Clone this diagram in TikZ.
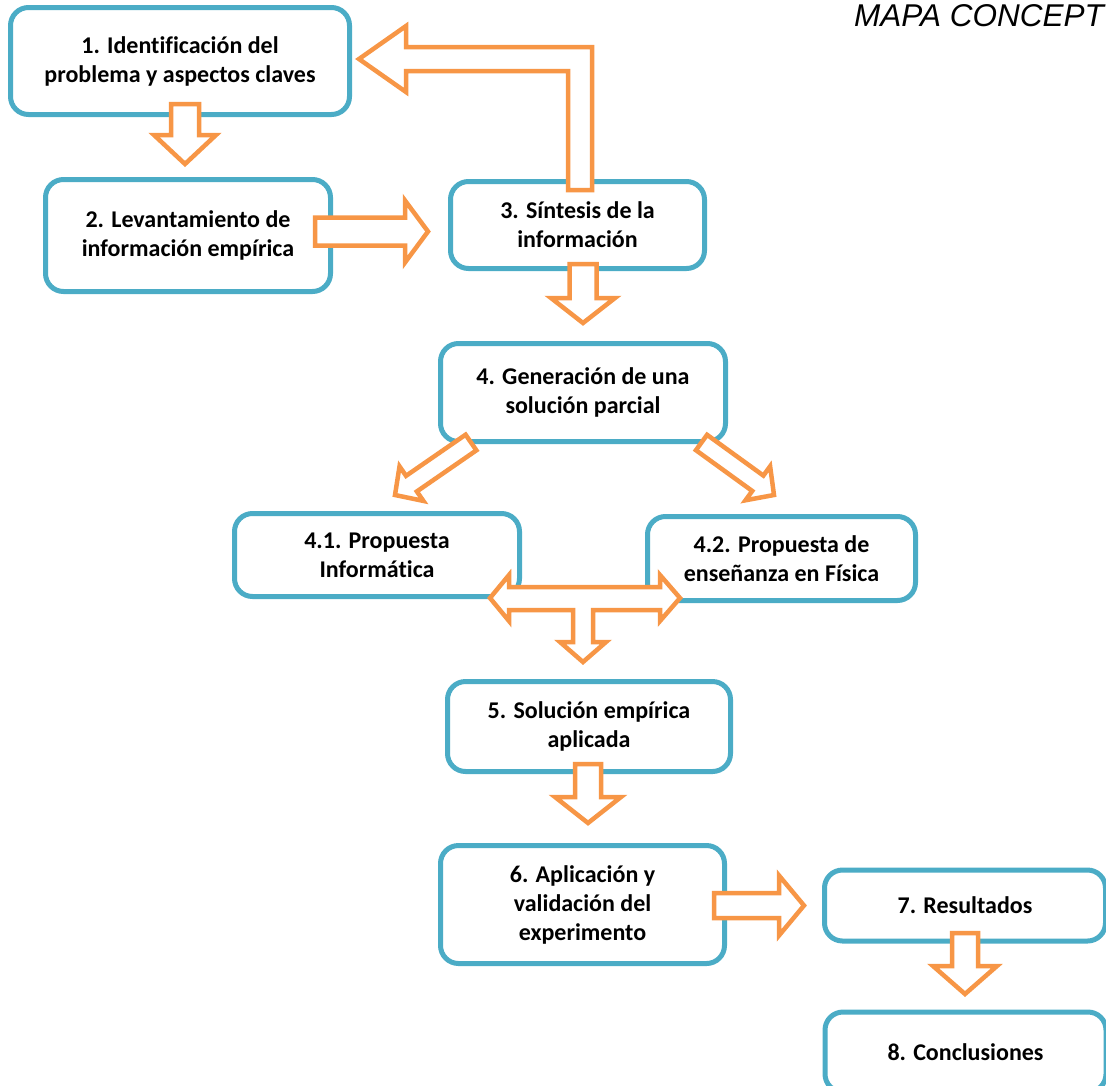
\documentclass[tikz,border=0pt]{standalone}
\usepackage{fontspec}
\setmainfont{Carlito}[Ligatures=NoCommon]
\newfontfamily\titlefont{Liberation Sans}
\usetikzlibrary{calc}
\definecolor{boxblue}{HTML}{4BACC6}
\definecolor{arrorange}{HTML}{F79646}
\tikzset{
  stage/.style={draw=boxblue, line width=5pt, rounded corners=18pt, fill=white,
    align=center, inner sep=0pt, font={\fontsize{24}{29}\selectfont\bfseries}},
  barrow/.style={draw=arrorange, line width=4.5pt, fill=white, line join=miter},
}
\newcommand{\blockarrow}[5]{%
  \draw[barrow] ($(#1)!#3!90:(#2)$)
    -- ($(#2)!#5!(#1)!#3!-90:(#1)$)
    -- ($(#2)!#5!(#1)!#4!-90:(#1)$)
    -- (#2)
    -- ($(#2)!#5!(#1)!#4!90:(#1)$)
    -- ($(#2)!#5!(#1)!#3!90:(#1)$)
    -- ($(#1)!#3!-90:(#2)$) -- cycle;}
\begin{document}
\begin{tikzpicture}[x=1pt,y=-1pt]
\useasboundingbox (0,0) rectangle (1106,1085);
\clip (0,0) rectangle (1106,1085);

% title
\node[anchor=base west, inner sep=0pt, font={\titlefont\itshape\fontsize{31.5}{36}\selectfont}] (title) at (854,26) {MAPA CONCEPT};

% boxes
\node[stage, minimum width=339pt, minimum height=107pt] (b1) at (180,61) {1. Identificación del\\problema y aspectos claves};
\node[stage, minimum width=285pt, minimum height=112pt] (b2) at (188,235.5) {2. Levantamiento de\\información empírica};
\node[stage, minimum width=254pt, minimum height=87pt] (b3) at (577.5,225) {3. Síntesis de la\\información};
\node[stage, minimum width=285pt, minimum height=98pt] (b4) at (583,392.5) {4. Generación de una\\solución parcial};
\node[stage, minimum width=285pt, minimum height=83pt] (b41) at (377,555) {4.1. Propuesta\\Informática};
\node[stage, minimum width=268pt, minimum height=84pt] (b42) at (781.5,558.5) {4.2. Propuesta de\\enseñanza en Física};
\node[stage, minimum width=283pt, minimum height=90pt] (b5) at (589,726.5) {5. Solución empírica\\aplicada};
\node[stage, minimum width=284pt, minimum height=118pt] (b6) at (582.5,904.5) {6. Aplicación y\\validación del\\experimento};
\node[stage, minimum width=281pt, minimum height=71pt] (b7) at (965,905.5) {7. Resultados};
\node[stage, minimum width=281pt, minimum height=80pt] (b8) at (965.5,1052) {8. Conclusiones};

% arrow end points
\coordinate (a12s) at (185,104);   \coordinate (a12e) at (185,164);
\coordinate (a23s) at (315,231.5); \coordinate (a23e) at (428,231.5);
\coordinate (a34s) at (583,264);   \coordinate (a34e) at (583,323);
\coordinate (a441s) at (471,442.5); \coordinate (a441e) at (395,495);
\coordinate (a442s) at (701.5,442.5); \coordinate (a442e) at (774,495);
\coordinate (a56s) at (588,764);   \coordinate (a56e) at (588,823);
\coordinate (a67s) at (714,905.5); \coordinate (a67e) at (804,905.5);
\coordinate (a78s) at (965,933);   \coordinate (a78e) at (965,994);

\blockarrow{a12s}{a12e}{14pt}{31pt}{29pt}
\blockarrow{a23s}{a23e}{14pt}{31pt}{23pt}
\blockarrow{a34s}{a34e}{13.5pt}{32pt}{25pt}
\blockarrow{a441s}{a441e}{9.5pt}{21pt}{20pt}
\blockarrow{a442s}{a442e}{9.5pt}{21pt}{20pt}
\blockarrow{a56s}{a56e}{13pt}{33pt}{26pt}
\blockarrow{a67s}{a67e}{12.5pt}{30pt}{25pt}
\blockarrow{a78s}{a78e}{13pt}{32pt}{28pt}

% bent arrow from 3 back to 1
\draw[barrow] (359,59) -- (406,26) -- (406,47) -- (592,47) -- (592,190)
  -- (568,190) -- (568,71) -- (406,71) -- (406,92) -- cycle;

% T-shaped arrow between 4.1, 4.2 and 5
\draw[barrow] (490,598) -- (509,575) -- (509,587) -- (660,587) -- (660,575)
  -- (680,598) -- (660,621) -- (660,610) -- (593,610) -- (593,642) -- (606,642)
  -- (583,662) -- (560,642) -- (573,642) -- (573,610) -- (509,610) -- (509,621) -- cycle;
\end{tikzpicture}
\end{document}
